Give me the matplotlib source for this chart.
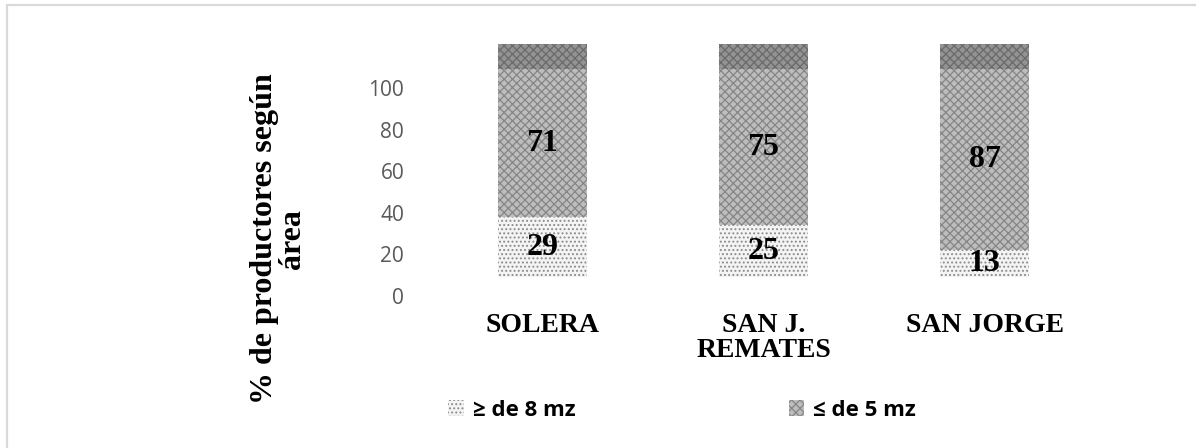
import matplotlib.pyplot as plt
from matplotlib.patches import Rectangle, Patch

# datos
zonas = ["SOLERA", "SAN J.\nREMATES", "SAN JORGE"]
mayor_8 = [29, 25, 13]      # >= de 8 mz
menor_5 = [71, 75, 87]      # <= de 5 mz
base = [9, 9, 9]            # desplazamiento de las barras en el original
franja_sup = [12, 12, 12]   # franja oscura sin etiqueta arriba
ticks_y = [0, 20, 40, 60, 80, 100]

plt.rcParams['hatch.linewidth'] = 0.9

fig = plt.figure(figsize=(11.96, 4.48), dpi=100)
ax = fig.add_axes([432 / 1196, (448 - 296) / 448, (1095 - 432) / 1196, (296 - 38) / 448])

x = list(range(len(zonas)))
ancho = 0.4

ax.bar(x, mayor_8, ancho, bottom=base, color='#f4f4f4', edgecolor='#8c8c8c',
       hatch='....', linewidth=0)
abajo2 = [b + v for b, v in zip(base, mayor_8)]
ax.bar(x, menor_5, ancho, bottom=abajo2, color='#bdbdbd', edgecolor='#858585',
       hatch='xxxx', linewidth=0)
abajo3 = [b + v for b, v in zip(abajo2, menor_5)]
ax.bar(x, franja_sup, ancho, bottom=abajo3, color='#939393', edgecolor='#6a6a6a',
       hatch='xxxx', linewidth=0)

# etiquetas de valores
for i in x:
    ax.text(i, base[i] + mayor_8[i] / 2, str(mayor_8[i]), ha='center', va='center',
            fontsize=23, fontweight='bold', family='Liberation Serif', color='black')
    ax.text(i, abajo2[i] + menor_5[i] / 2, str(menor_5[i]), ha='center', va='center',
            fontsize=23, fontweight='bold', family='Liberation Serif', color='black')

ax.set_xlim(-0.5, 2.5)
ax.set_ylim(0, 124)
ax.set_yticks(ticks_y)
ax.set_yticklabels([str(t) for t in ticks_y], fontsize=15, color='#595959',
                   family='Open Sans')
ax.set_xticks(x)
ax.set_xticklabels(zonas, fontsize=20, fontweight='bold', family='Liberation Serif',
                   linespacing=1.0, va='top')
ax.tick_params(axis='y', length=0, pad=20)
ax.tick_params(axis='x', length=0, pad=12)
for s in ax.spines.values():
    s.set_visible(False)

ax.set_ylabel("% de productores según\nárea", fontsize=23, fontweight='bold',
              family='Liberation Serif', linespacing=0.95, multialignment='center')
ax.yaxis.set_label_coords((307 - 432) / (1095 - 432), (296 - 239) / (296 - 38))

# leyenda
manejadores = [Patch(facecolor='#f4f4f4', edgecolor='#8c8c8c', hatch='....', linewidth=0),
               Patch(facecolor='#bdbdbd', edgecolor='#858585', hatch='xxxx', linewidth=0)]
fig.legend(manejadores, ["≥ de 8 mz", "≤ de 5 mz"], loc='center',
           bbox_to_anchor=(682 / 1196, 1 - 410 / 448), ncol=2, frameon=False,
           prop={'family': 'Open Sans', 'weight': 'bold', 'size': 16},
           handlelength=0.7, handleheight=0.7, handletextpad=0.4, columnspacing=9.6)

# borde gris del área del gráfico
fig.patches.append(Rectangle((7 / 1196, -0.1), 1.2, 1.1 - 5 / 448,
                             transform=fig.transFigure, fill=False,
                             edgecolor='#d9d9d9', linewidth=1.6))

fig.savefig('out.png', dpi=100)
